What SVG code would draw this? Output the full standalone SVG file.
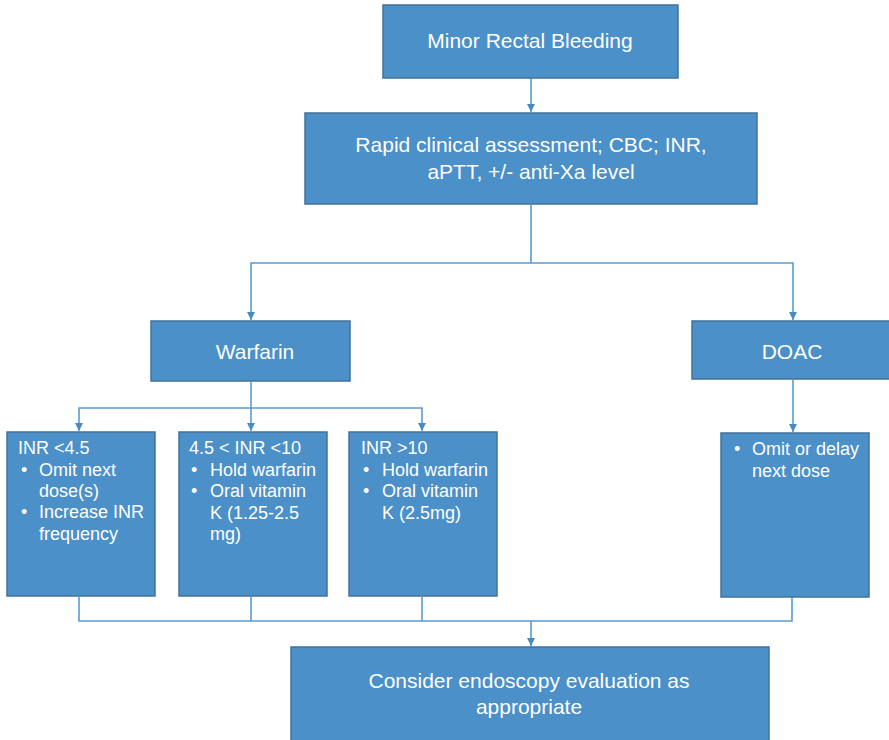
<svg xmlns="http://www.w3.org/2000/svg" width="889" height="740" viewBox="0 0 889 740">
<style>
.box{fill:#4b90c8;stroke:#41719c;stroke-width:1.5}
.t{fill:#ffffff;font-family:"Liberation Sans",Arial,sans-serif}
.h{font-size:21px;text-anchor:middle}
.s{font-size:18px}
.c{fill:none;stroke:#5a9bd2;stroke-width:1.6}
</style>
<defs>
<marker id="ah" viewBox="0 0 10 10" refX="10" refY="5" markerWidth="8" markerHeight="8" markerUnits="userSpaceOnUse" orient="auto">
<path d="M0,0 L10,5 L0,10 z" fill="#4a8ac4"/>
</marker>
</defs>
<rect width="889" height="740" fill="#ffffff"/>
<g id="connectors">
<path class="c" d="M531,78 V112" marker-end="url(#ah)"/>
<path class="c" d="M531,205 V263 H251 V320" marker-end="url(#ah)"/>
<path class="c" d="M531,263 H793 V320" marker-end="url(#ah)"/>
<path class="c" d="M793,380 V432" marker-end="url(#ah)"/>
<path class="c" d="M251,382 V408 H79 V431" marker-end="url(#ah)"/>
<path class="c" d="M251,408 V431" marker-end="url(#ah)"/>
<path class="c" d="M251,408 H422 V431" marker-end="url(#ah)"/>
<path class="c" d="M79,597 V621 H792 V597"/>
<path class="c" d="M251,597 V621"/>
<path class="c" d="M422,597 V621"/>
<path class="c" d="M531,621 V646" marker-end="url(#ah)"/>
</g>
<g id="minor">
<rect class="box" x="383" y="5" width="295" height="73"/>
<text class="t h" x="530" y="48">Minor Rectal Bleeding</text>
</g>
<g id="assess">
<rect class="box" x="305" y="113" width="452" height="91"/>
<text class="t h" x="531" y="152">Rapid clinical assessment; CBC; INR,</text>
<text class="t h" x="531" y="179">aPTT, +/- anti-Xa level</text>
</g>
<g id="warfarin">
<rect class="box" x="151" y="321" width="199" height="60"/>
<text class="t h" x="255" y="359">Warfarin</text>
</g>
<g id="doac">
<rect class="box" x="692" y="321" width="200" height="58"/>
<text class="t h" x="792" y="359">DOAC</text>
</g>
<g id="inr1">
<rect class="box" x="7" y="432" width="148" height="164"/>
<text class="t s" x="18" y="454">INR &lt;4.5</text>
<text class="t s" x="21" y="476">•</text>
<text class="t s" x="39" y="476">Omit next</text>
<text class="t s" x="39" y="497">dose(s)</text>
<text class="t s" x="21" y="518">•</text>
<text class="t s" x="39" y="518">Increase INR</text>
<text class="t s" x="39" y="540">frequency</text>
</g>
<g id="inr2">
<rect class="box" x="179" y="432" width="148" height="164"/>
<text class="t s" x="189" y="454">4.5 &lt; INR &lt;10</text>
<text class="t s" x="191" y="476">•</text>
<text class="t s" x="210" y="476">Hold warfarin</text>
<text class="t s" x="191" y="497">•</text>
<text class="t s" x="210" y="497">Oral vitamin</text>
<text class="t s" x="210" y="519">K (1.25-2.5</text>
<text class="t s" x="210" y="540">mg)</text>
</g>
<g id="inr3">
<rect class="box" x="349" y="432" width="148" height="164"/>
<text class="t s" x="361" y="454">INR &gt;10</text>
<text class="t s" x="363" y="476">•</text>
<text class="t s" x="382" y="476">Hold warfarin</text>
<text class="t s" x="363" y="497">•</text>
<text class="t s" x="382" y="497">Oral vitamin</text>
<text class="t s" x="382" y="519">K (2.5mg)</text>
</g>
<g id="doacsub">
<rect class="box" x="721" y="433" width="148" height="164"/>
<text class="t s" x="734" y="455">•</text>
<text class="t s" x="752" y="455">Omit or delay</text>
<text class="t s" x="752" y="477">next dose</text>
</g>
<g id="endoscopy">
<rect class="box" x="291" y="647" width="478" height="100"/>
<text class="t h" x="529" y="688">Consider endoscopy evaluation as</text>
<text class="t h" x="529" y="714">appropriate</text>
</g>
</svg>
